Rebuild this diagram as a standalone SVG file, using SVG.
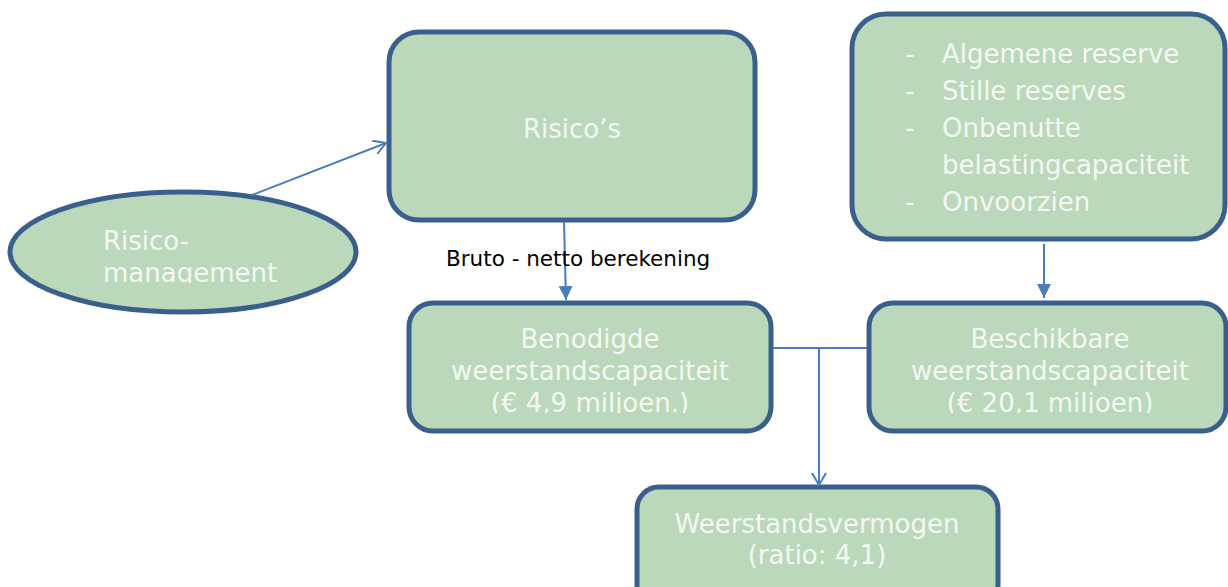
<svg xmlns="http://www.w3.org/2000/svg" width="1228" height="587" viewBox="0 0 1228 587">
<style>
.n{fill:#bbd8ba;stroke:#3b5f8d;stroke-width:5}
.t{font-family:"DejaVu Sans",Verdana,sans-serif;font-size:26px;fill:#f4f8f3}
.c{fill:none;stroke:#4a7ebb;stroke-width:2}
.lbl{font-family:"DejaVu Sans",Verdana,sans-serif;font-size:21.5px;fill:#000}
</style>
<defs>
<marker id="open" markerWidth="16" markerHeight="16" refX="14" refY="8" orient="auto" markerUnits="userSpaceOnUse"><path d="M2,1 L14,8 L2,15" fill="none" stroke="#4a7ebb" stroke-width="2"/></marker>
<marker id="fill" markerWidth="16" markerHeight="16" refX="14" refY="7" orient="auto" markerUnits="userSpaceOnUse"><path d="M0,0 L14,7 L0,14 Z" fill="#4a7ebb"/></marker>
<clipPath id="c1"><rect x="0" y="0" width="1228" height="283"/></clipPath>
<clipPath id="c2"><rect x="0" y="0" width="1228" height="413"/></clipPath>
</defs>
<g id="risicomanagement">
<ellipse class="n" cx="183" cy="252" rx="173" ry="60"/>
<g clip-path="url(#c1)"><text class="t" x="103" y="250">Risico-</text><text class="t" x="103" y="282">management</text></g>
</g>
<g id="risicos">
<rect class="n" x="389" y="32" width="366" height="188" rx="30"/>
<text class="t" x="572" y="138" text-anchor="middle">Risico’s</text>
</g>
<g id="reserves">
<rect class="n" x="852" y="14" width="373" height="225" rx="34"/>
<g class="t"><text x="905" y="63">-</text><text x="942" y="63">Algemene reserve</text>
<text x="905" y="100">-</text><text x="942" y="100">Stille reserves</text>
<text x="905" y="137">-</text><text x="942" y="137">Onbenutte</text>
<text x="942" y="174">belastingcapaciteit</text>
<text x="905" y="211">-</text><text x="942" y="211">Onvoorzien</text></g>
</g>
<g id="benodigde">
<rect class="n" x="409" y="303" width="362" height="128" rx="24"/>
<g clip-path="url(#c2)" class="t" text-anchor="middle"><text x="590" y="348">Benodigde</text><text x="590" y="380">weerstandscapaciteit</text><text x="590" y="412">(€ 4,9 miljoen.)</text></g>
</g>
<g id="beschikbare">
<rect class="n" x="869" y="303" width="357" height="128" rx="24"/>
<g clip-path="url(#c2)" class="t" text-anchor="middle"><text x="1050" y="348">Beschikbare</text><text x="1050" y="380">weerstandscapaciteit</text><text x="1050" y="412">(€ 20,1 miljoen)</text></g>
</g>
<g id="weerstandsvermogen">
<rect class="n" x="637" y="487" width="361" height="120" rx="22"/>
<g class="t" text-anchor="middle"><text x="817" y="533">Weerstandsvermogen</text><text x="817" y="564">(ratio: 4,1)</text></g>
</g>
<g id="connectors">
<line class="c" x1="252" y1="195" x2="386" y2="143" marker-end="url(#open)"/>
<line class="c" x1="564" y1="222" x2="566" y2="300" marker-end="url(#fill)"/>
<line class="c" x1="1044" y1="244" x2="1044" y2="298" marker-end="url(#fill)"/>
<polyline class="c" points="773,348 867,348"/>
<line class="c" x1="819" y1="348" x2="819" y2="485" marker-end="url(#open)"/>
</g>
<text class="lbl" x="446" y="266">Bruto - netto berekening</text>
</svg>
